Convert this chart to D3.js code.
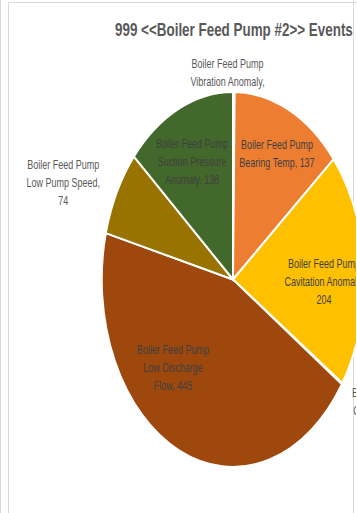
<!DOCTYPE html>
<html>
<head>
<meta charset="utf-8">
<script src="https://cdn.jsdelivr.net/npm/d3@7"></script>
<style>
  html, body { margin: 0; padding: 0; background: #fff; overflow: hidden; }
  svg { display: block; }
</style>
</head>
<body>
<svg id="chart" width="357" height="513"></svg>
<script>
// ---- data ----
const titleText = "999 <<Boiler Feed Pump #2>> Events";
const categories = [
  "Boiler Feed Pump Vibration Anomaly",
  "Boiler Feed Pump Bearing Temp",
  "Boiler Feed Pump Cavitation Anomaly",
  "Boiler Feed Pump Coupling Temp",
  "Boiler Feed Pump Low Discharge Flow",
  "Boiler Feed Pump Low Pump Speed",
  "Boiler Feed Pump Suction Pressure Anomaly"
];
const values = [2, 137, 204, 1, 445, 74, 136];
const colors = ["#4472C4", "#ED7D31", "#FFC000", "#5B9BD5", "#9E480E", "#997300", "#43682B"];
const labelInside = [false, true, true, false, true, false, true];
// label placement: angle offset from slice middle (degrees), distance as fraction of radius
const labelOffsetDeg = [-2.6, 1.1, 4.1, -4.85, 20.0, -5.8, -1.9];
const labelRadius = [1.057, 0.751, 0.693, 1.350, 0.657, 1.394, 0.702];

// ---- layout ----
const W = 357, H = 513;
const cx = 233, cy = 279.5, R = 187.5;
const squeeze = 0.70;      // horizontal compression of the plot
const textSqueeze = 0.72;  // horizontal compression of label text
const fontSize = 12.5, lineH = 18, wrapWidth = 113;

const svg = d3.select("#chart");
svg.append("rect").attr("width", W).attr("height", H).attr("fill", "#fff");

svg.append("defs").append("clipPath").attr("id", "clip")
  .append("rect").attr("x", 0).attr("y", 0).attr("width", 356).attr("height", H);

// frame lines
const frame = svg.append("g").attr("stroke", "#d9d9d9").attr("stroke-width", 1).attr("fill", "none");
frame.append("line").attr("x1", 0.5).attr("x2", 0.5).attr("y1", 0).attr("y2", H);
frame.append("line").attr("x1", 8.5).attr("x2", 8.5).attr("y1", 2.5).attr("y2", H);
frame.append("line").attr("x1", 8.5).attr("x2", W).attr("y1", 2.5).attr("y2", 2.5);
frame.append("line").attr("x1", 353.5).attr("x2", 353.5).attr("y1", 0).attr("y2", H);

const root = svg.append("g").attr("clip-path", "url(#clip)");

// title
const title = root.append("text")
  .attr("font-family", "'Liberation Sans', Arial, sans-serif")
  .attr("font-weight", "bold")
  .attr("font-size", 19)
  .attr("fill", "#595959")
  .text(titleText);
const tLen = title.node().getComputedTextLength();
title.attr("transform", `translate(115,35.5) scale(${238 / tLen},1)`);

// pie
const pie = d3.pie().sort(null).value(d => d.value).startAngle(0).endAngle(2 * Math.PI);
const data = categories.map((c, i) => ({ name: c, value: values[i], i }));
const arcs = pie(data);
const arc = d3.arc().innerRadius(0).outerRadius(R);

const pieG = root.append("g").attr("transform", `translate(${cx},${cy}) scale(${squeeze},1)`);
pieG.selectAll("path").data(arcs).join("path")
  .attr("d", arc)
  .attr("fill", d => colors[d.data.i])
  .attr("stroke", "#fff")
  .attr("stroke-width", 2)
  .attr("vector-effect", "non-scaling-stroke");

// word wrap using measured widths
const measurer = root.append("text")
  .attr("font-family", "'Liberation Sans', Arial, sans-serif")
  .attr("font-size", fontSize)
  .attr("visibility", "hidden");
function wrap(str) {
  const words = str.split(" ");
  const lines = [];
  let cur = "";
  words.forEach(w => {
    const trial = cur ? cur + " " + w : w;
    measurer.text(trial);
    if (cur && measurer.node().getComputedTextLength() > wrapWidth) {
      lines.push(cur);
      cur = w;
    } else cur = trial;
  });
  if (cur) lines.push(cur);
  return lines;
}

// labels
const labelG = root.append("g")
  .attr("font-family", "'Liberation Sans', Arial, sans-serif")
  .attr("font-size", fontSize)
  .attr("text-anchor", "middle");

arcs.forEach(a => {
  const i = a.data.i;
  const mid = (a.startAngle + a.endAngle) / 2 + labelOffsetDeg[i] * Math.PI / 180;
  const r = labelRadius[i] * R;
  const x = cx + squeeze * r * Math.sin(mid);
  const y = cy - r * Math.cos(mid);
  const lines = wrap(`${a.data.name}, ${d3.format(",")(a.data.value)}`);
  const g = labelG.append("g").attr("transform", `translate(${x},${y}) scale(${textSqueeze},1)`);
  const t = g.append("text").attr("fill", labelInside[i] ? "#404040" : "#595959");
  lines.forEach((ln, k) => {
    t.append("tspan")
      .attr("x", 0)
      .attr("y", (k - (lines.length - 1) / 2) * lineH + 4.5)
      .text(ln);
  });
});
measurer.remove();
</script>
</body>
</html>
